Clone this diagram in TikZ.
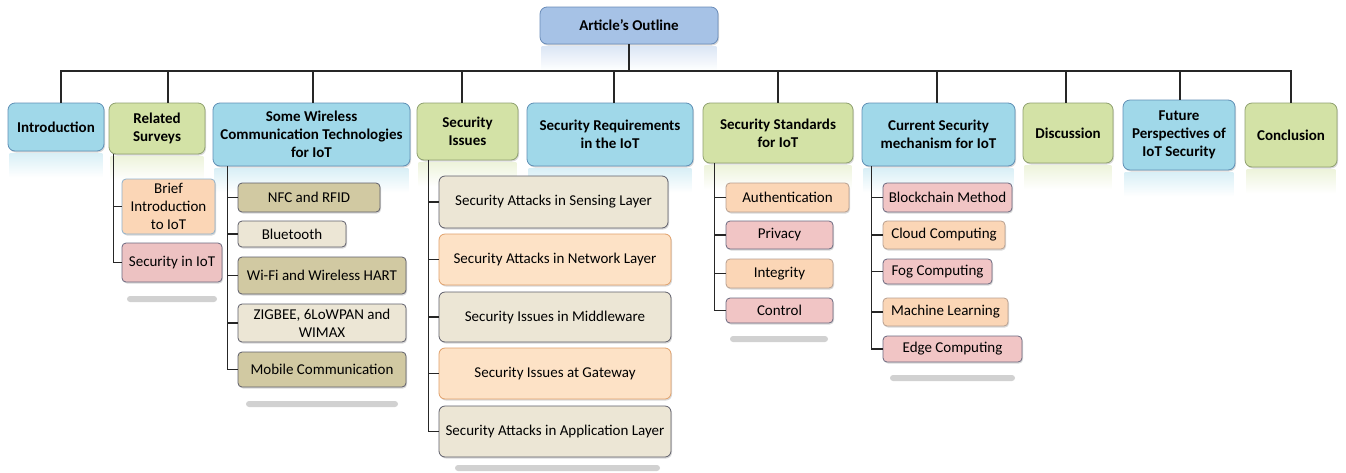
\documentclass[tikz,border=0pt]{standalone}
\usepackage{fontspec}
\setmainfont{Carlito}
\usetikzlibrary{shadows}
\definecolor{croot}{HTML}{A6C2E6}
\definecolor{croote}{HTML}{6A8CB8}
\definecolor{cblue}{HTML}{A0D8E9}
\definecolor{cbluee}{HTML}{5F8FB5}
\definecolor{cgreen}{HTML}{D3E2A6}
\definecolor{cgreene}{HTML}{8FA070}
\definecolor{corange}{HTML}{FBD6B6}
\definecolor{corangee}{HTML}{B8A090}
\definecolor{cpeach}{HTML}{FDE2C6}
\definecolor{cpeache}{HTML}{E0A06A}
\definecolor{cpink}{HTML}{F1C5C5}
\definecolor{cpinke}{HTML}{6B6A80}
\definecolor{ckhaki}{HTML}{D1C9A2}
\definecolor{ckhakie}{HTML}{5E5E6A}
\definecolor{ctan}{HTML}{ECE6D5}
\definecolor{ctane}{HTML}{5E5E6A}
\tikzset{
  base/.style={draw, align=center, inner sep=1pt, line width=0.8pt,
    drop shadow={shadow xshift=1pt, shadow yshift=-1.5pt, opacity=0.3}},
  lvl/.style={base, rounded corners=7pt, font=\bfseries\fontsize{15}{18}\selectfont},
  sub/.style={base, rounded corners=4pt, font=\fontsize{15}{18}\selectfont},
  sz/.style 2 args={minimum width=#1pt, minimum height=#2pt},
  rootbox/.style={fill=croot, draw=croote},
  bluebox/.style={fill=cblue, draw=cbluee},
  greenbox/.style={fill=cgreen, draw=cgreene},
  orangebox/.style={fill=corange, draw=corangee},
  peachbox/.style={fill=cpeach, draw=cpeache},
  pinkbox/.style={fill=cpink, draw=cpinke},
  khakibox/.style={fill=ckhaki, draw=ckhakie},
  tanbox/.style={fill=ctan, draw=ctane},
  conn/.style={line width=1.1pt, draw=black!85},
  refl/.style={top color=#1!40!white, bottom color=white, draw=none},
  bar/.style={fill=black!18, draw=none, rounded corners=3pt},
}
\begin{document}
\begin{tikzpicture}[x=1pt, y=-1pt]
\useasboundingbox (0,0) rectangle (1346,472);

% root and level-1 boxes
\node[lvl, rootbox, sz={178}{37}] (root) at (629,25.5) {Article’s Outline};
\node[lvl, bluebox, sz={96}{48}] (intro) at (56,127) {Introduction};
\node[lvl, greenbox, sz={96}{51}] (rs) at (157,128.5) {Related\\Surveys};
\node[lvl, bluebox, sz={197}{63}] (wl) at (311.5,134.5) {Some Wireless\\Communication Technologies\\for IoT};
\node[lvl, greenbox, sz={101}{57}] (si) at (467.5,131.5) {Security\\Issues};
\node[lvl, bluebox, sz={166}{63}] (sreq) at (610,134.5) {Security Requirements\\in the IoT};
\node[lvl, greenbox, sz={150}{60}] (sstd) at (778,133) {Security Standards\\for IoT};
\node[lvl, bluebox, sz={153}{63}] (csm) at (938.5,134.5) {Current Security\\mechanism for IoT};
\node[lvl, greenbox, sz={90}{60}] (disc) at (1068,133) {Discussion};
\node[lvl, bluebox, sz={112}{70}] (fut) at (1179,135) {Future\\Perspectives of\\IoT Security};
\node[lvl, greenbox, sz={92}{64}] (concl) at (1291,135) {Conclusion};

% reflections
\foreach \n/\c in {root/croot, intro/cblue, rs/cgreen, wl/cblue, si/cgreen, sreq/cblue, sstd/cgreen, csm/cblue, disc/cgreen, fut/cblue, concl/cgreen}
  \shade[refl=\c] ([yshift=-2pt, xshift=2pt]\n.south west) rectangle ([yshift=-26pt, xshift=-2pt]\n.south east);

% bus connectors
\coordinate (bus) at (629,71);
\draw[conn] (root.south) -- (bus);
\draw[conn] (bus) -| ([xshift=5pt]intro.north);
\draw[conn] (bus) -| ([xshift=11pt]rs.north);
\draw[conn] (bus) -| ([xshift=1.5pt]wl.north);
\draw[conn] (bus) -| ([xshift=-5.5pt]si.north);
\draw[conn] (bus) -| ([xshift=4pt]sreq.north);
\draw[conn] (bus) -| (sstd.north);
\draw[conn] (bus) -| ([xshift=-1.5pt]csm.north);
\draw[conn] (bus) -| ([xshift=-2pt]disc.north);
\draw[conn] (bus) -| ([xshift=1pt]fut.north);
\draw[conn] (bus) -| (concl.north);

% shadow bars
\fill[bar] (127,296) rectangle (217,302);
\fill[bar] (246,401) rectangle (398,407);
\fill[bar] (455,465) rectangle (660,471);
\fill[bar] (730,336) rectangle (828,342);
\fill[bar] (890,375) rectangle (1015,381);

% children
\node[sub, orangebox, sz={93}{55}, draw=cbluee!70] (brief) at (168.5,206.5) {Brief\\Introduction\\to IoT};
\node[sub, pinkbox, sz={100}{39}, fill=cpink!85!black!10!cpink, draw=cpinke] (secIoT) at (172,262.5) {Security in IoT};

\node[sub, khakibox, sz={142}{29}] (nfc) at (309,197.5) {NFC and RFID};
\node[sub, tanbox, sz={108}{26}] (bt) at (292,234) {Bluetooth};
\node[sub, khakibox, sz={168}{37}] (wifi) at (322,275.5) {Wi-Fi and Wireless HART};
\node[sub, tanbox, sz={168}{38}] (zig) at (322,323) {ZIGBEE, 6LoWPAN and\\WIMAX};
\node[sub, khakibox, sz={168}{35}] (mob) at (322,369.5) {Mobile Communication};

\node[sub, tanbox, sz={229}{52}, rounded corners=6pt] (sens) at (553.5,202) {Security Attacks in Sensing Layer};
\node[sub, peachbox, sz={232}{51}, rounded corners=6pt] (net) at (555,259.5) {Security Attacks in Network Layer};
\node[sub, tanbox, sz={232}{50}, rounded corners=6pt] (mid) at (555,317) {Security Issues in Middleware};
\node[sub, peachbox, sz={232}{51}, rounded corners=6pt] (gate) at (555,373.5) {Security Issues at Gateway};
\node[sub, tanbox, sz={232}{51}, rounded corners=6pt] (app) at (555,431.5) {Security Attacks in Application Layer};

\node[sub, orangebox, sz={123}{29}] (auth) at (787.5,197.5) {Authentication};
\node[sub, pinkbox, sz={107}{28}] (priv) at (779.5,235) {Privacy};
\node[sub, orangebox, sz={107}{29}] (integ) at (779.5,273.5) {Integrity};
\node[sub, pinkbox, sz={107}{25}] (ctrl) at (779.5,310.5) {Control};

\node[sub, pinkbox, sz={129}{29}] (block) at (947.5,197.5) {Blockchain Method};
\node[sub, orangebox, sz={122}{28}] (cloud) at (944,235) {Cloud Computing};
\node[sub, pinkbox, sz={109}{25}] (fog) at (937.5,271.5) {Fog Computing};
\node[sub, orangebox, sz={125}{28}] (ml) at (945.5,312) {Machine Learning};
\node[sub, pinkbox, sz={139}{26}] (edge) at (952.5,349) {Edge Computing};

% child connectors
\foreach \c in {brief, secIoT}
  \draw[conn] ([xshift=5pt]rs.south west) |- (\c.west);
\foreach \c in {nfc, bt, wifi, zig, mob}
  \draw[conn] ([xshift=15pt]wl.south west) |- (\c.west);
\foreach \c in {sens, net, mid, gate, app}
  \draw[conn] ([xshift=12pt]si.south west) |- (\c.west);
\foreach \c in {auth, priv, integ, ctrl}
  \draw[conn] ([xshift=12pt]sstd.south west) |- (\c.west);
\foreach \c in {block, cloud, fog, ml, edge}
  \draw[conn] ([xshift=10pt]csm.south west) |- (\c.west);
\end{tikzpicture}
\end{document}
